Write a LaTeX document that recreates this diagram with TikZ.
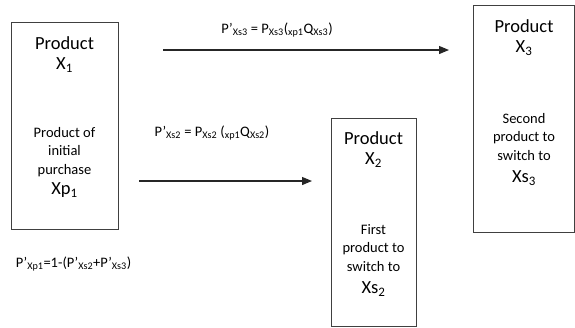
\documentclass[tikz,border=0pt]{standalone}
\usepackage{fontspec}
\setmainfont{Carlito}
\usetikzlibrary{arrows.meta}

\begin{document}
\begin{tikzpicture}[x=1pt,y=-1pt,
    productbox/.style={draw=black!75,line width=0.9pt,inner sep=0pt},
    bigtext/.style={font=\fontsize{18.5}{22}\selectfont,inner sep=0pt},
    smalltext/.style={font=\fontsize{14.5}{18.5}\selectfont,align=center,inner sep=0pt},
    probtext/.style={font=\fontsize{14.5}{17}\selectfont,inner sep=0pt},
    switcharrow/.style={line width=1.2pt,draw=black!85,-{Triangle[length=10pt,width=8pt]}}]

    \useasboundingbox (0,0) rectangle (575,327);

    % boxes ↓
    \foreach \n/\cx/\cy/\w/\h in {1/64.5/125.5/107/207, 2/373.5/222/85/208, 3/524/118.5/101/227}
        \node [productbox, minimum width=\w, minimum height=\h] (x\n) at (\cx,\cy) {};

    % titles ↓
    \foreach \n/\cx/\ty in {1/64.5/43, 2/373.5/138, 3/524/26}
        {\node [bigtext] (prod\n) at (\cx,\ty) {Product};
        \node [bigtext] (name\n) at (\cx,\ty+22) {X\textsubscript{\n}};}

    % descriptions ↓
    \node [smalltext] (desc1) at (64.5,152) {Product of\\initial\\purchase};
    \node [bigtext] (xp1) at (64.5,190) {Xp\textsubscript{1}};
    \node [smalltext] (desc2) at (373.5,248) {First\\product to\\switch to};
    \node [bigtext] (xs2) at (373.5,289) {Xs\textsubscript{2}};
    \node [smalltext] (desc3) at (524,137) {Second\\product to\\switch to};
    \node [bigtext] (xs3) at (524,178) {Xs\textsubscript{3}};

    % arrows ↓
    \coordinate (a3s) at (163,50);
    \coordinate (a3e) at (449,50);
    \coordinate (a2s) at (139,181);
    \coordinate (a2e) at (312,181);
    \draw [switcharrow] (a3s) -- (a3e);
    \draw [switcharrow] (a2s) -- (a2e);

    % probabilities ↓
    \node [probtext] (p3) at (277,30) {P’\textsubscript{Xs3} = P\textsubscript{Xs3}(\textsubscript{xp1}Q\textsubscript{Xs3})};
    \node [probtext] (p2) at (212,133) {P’\textsubscript{Xs2} = P\textsubscript{Xs2} (\textsubscript{xp1}Q\textsubscript{Xs2})};
    \node [probtext] (p1) at (73.5,264) {P’\textsubscript{Xp1}=1-(P’\textsubscript{Xs2}+P’\textsubscript{Xs3})};

\end{tikzpicture}
\end{document}
